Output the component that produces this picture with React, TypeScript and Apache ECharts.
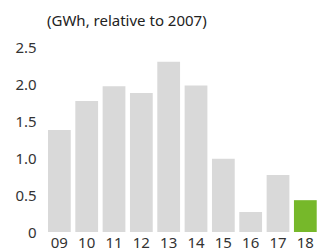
import React, { useEffect, useRef } from "react";
import * as echarts from "echarts";

const categories = ["09", "10", "11", "12", "13", "14", "15", "16", "17", "18"];
const values = [1.38, 1.77, 1.97, 1.88, 2.3, 1.98, 0.99, 0.27, 0.77, 0.43];
const highlightIndex = 9;
const unitLabel = "(GWh, relative to 2007)";

export default function App() {
  const ref = useRef<HTMLDivElement>(null);
  useEffect(() => {
    if (!ref.current) return;
    const chart = echarts.init(ref.current, undefined, { renderer: "svg" });
    chart.setOption({
      animation: false,
      textStyle: { fontFamily: "Noto Sans" },
      grid: { left: 45.7, right: -2.7, top: 47, bottom: 19, containLabel: false },
      graphic: [
        {
          type: "text",
          left: 47,
          top: 12,
          style: { text: unitLabel, fontSize: 15, fill: "#222", fontFamily: "Noto Sans" },
        },
      ],
      xAxis: {
        type: "category",
        data: categories,
        axisLine: { show: false },
        axisTick: { show: false },
        axisLabel: { color: "#333", fontSize: 15, margin: 2, lineHeight: 15 },
      },
      yAxis: {
        type: "value",
        min: 0,
        max: 2.5,
        interval: 0.5,
        splitLine: { show: false },
        axisLine: { show: false },
        axisTick: { show: false },
        axisLabel: {
          color: "#333",
          fontSize: 15,
          margin: 9,
          formatter: (v: number) => (v === 0 ? "0" : v.toFixed(1)),
        },
      },
      series: [
        {
          type: "bar",
          data: values.map((v, i) => ({
            value: v,
            itemStyle: { color: i === highlightIndex ? "#76b82a" : "#d9d9d9" },
          })),
          barCategoryGap: "16.7%",
        },
      ],
    });
    return () => chart.dispose();
  }, []);
  return <div ref={ref} style={{ width: 319, height: 251, position: "absolute", left: 0, top: 0 }} />;
}
